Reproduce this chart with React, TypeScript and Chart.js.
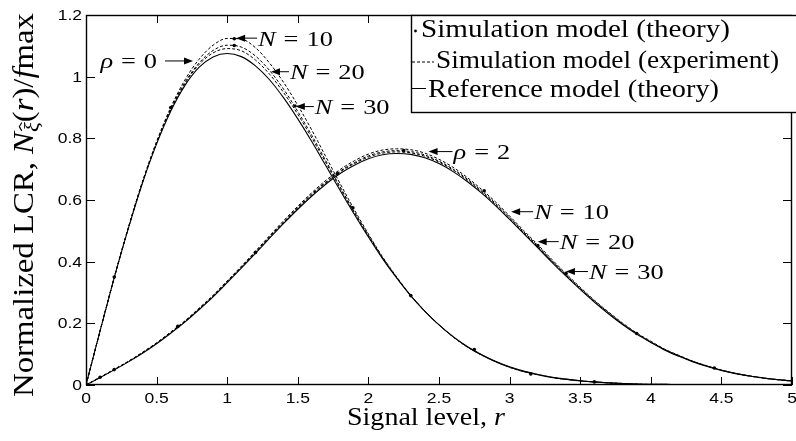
import React, { useEffect, useRef } from "react";
import { Chart, registerables } from "chart.js";
Chart.register(...registerables);

// ---------------- data ----------------
const rGrid = [0, 0.1, 0.2, 0.3, 0.4, 0.5, 0.6, 0.7, 0.8, 0.9, 1.0, 1.1, 1.2, 1.3, 1.4, 1.5, 1.6, 1.7, 1.8, 1.9, 2.0, 2.1, 2.2, 2.3, 2.4, 2.5, 2.6, 2.7, 2.8, 2.9, 3.0, 3.1, 3.2, 3.3, 3.4, 3.5, 3.6, 3.7, 3.8, 3.9, 4.0, 4.1, 4.2, 4.3, 4.4, 4.5, 4.6, 4.7, 4.8, 4.9, 5.0];

const refRho0 = [0, 0.176, 0.348, 0.508, 0.655, 0.782, 0.888, 0.971, 1.030, 1.064, 1.075, 1.065, 1.035, 0.990, 0.931, 0.863, 0.789, 0.710, 0.631, 0.554, 0.480, 0.410, 0.347, 0.289, 0.239, 0.195, 0.157, 0.125, 0.099, 0.077, 0.059, 0.045, 0.034, 0.025, 0.019, 0.014, 0.010, 0.007, 0.005, 0.003, 0.002, 0.002, 0.001, 0.001, 0, 0, 0, 0, 0, 0, 0];
const expRho0N10 = [0, 0.176, 0.349, 0.511, 0.660, 0.790, 0.900, 0.989, 1.056, 1.102, 1.124, 1.122, 1.094, 1.044, 0.981, 0.907, 0.826, 0.739, 0.653, 0.569, 0.490, 0.416, 0.351, 0.291, 0.240, 0.195, 0.156, 0.123, 0.097, 0.075, 0.057, 0.043, 0.033, 0.024, 0.018, 0.013, 0.010, 0.007, 0.005, 0.003, 0.002, 0.002, 0.001, 0.001, 0, 0, 0, 0, 0, 0, 0];
const expRho0N20 = [0, 0.176, 0.349, 0.510, 0.658, 0.786, 0.895, 0.981, 1.044, 1.085, 1.102, 1.096, 1.067, 1.020, 0.959, 0.887, 0.809, 0.726, 0.643, 0.562, 0.486, 0.413, 0.349, 0.290, 0.240, 0.195, 0.156, 0.124, 0.098, 0.076, 0.058, 0.044, 0.033, 0.024, 0.018, 0.013, 0.010, 0.007, 0.005, 0.003, 0.002, 0.002, 0.001, 0.001, 0, 0, 0, 0, 0, 0, 0];
const expRho0N30 = [0, 0.176, 0.348, 0.509, 0.657, 0.785, 0.892, 0.977, 1.039, 1.077, 1.091, 1.084, 1.054, 1.008, 0.948, 0.878, 0.801, 0.720, 0.638, 0.559, 0.483, 0.412, 0.348, 0.290, 0.239, 0.195, 0.157, 0.124, 0.098, 0.076, 0.058, 0.044, 0.034, 0.025, 0.019, 0.014, 0.010, 0.007, 0.005, 0.003, 0.002, 0.002, 0.001, 0.001, 0, 0, 0, 0, 0, 0, 0];

const refRho2 = [0, 0.024, 0.049, 0.075, 0.103, 0.134, 0.168, 0.204, 0.244, 0.286, 0.332, 0.379, 0.427, 0.476, 0.524, 0.570, 0.613, 0.652, 0.686, 0.713, 0.734, 0.747, 0.751, 0.748, 0.737, 0.718, 0.692, 0.660, 0.623, 0.582, 0.537, 0.491, 0.445, 0.398, 0.353, 0.310, 0.269, 0.231, 0.196, 0.165, 0.138, 0.113, 0.093, 0.075, 0.060, 0.047, 0.037, 0.029, 0.022, 0.017, 0.013];
const expRho2N10 = [0, 0.025, 0.051, 0.077, 0.106, 0.137, 0.172, 0.208, 0.249, 0.291, 0.338, 0.385, 0.434, 0.484, 0.533, 0.580, 0.624, 0.664, 0.699, 0.727, 0.749, 0.762, 0.766, 0.763, 0.752, 0.732, 0.706, 0.673, 0.635, 0.594, 0.548, 0.501, 0.455, 0.407, 0.361, 0.317, 0.275, 0.237, 0.201, 0.169, 0.142, 0.116, 0.096, 0.077, 0.062, 0.049, 0.038, 0.030, 0.023, 0.018, 0.014];
const expRho2N20 = [0, 0.025, 0.050, 0.076, 0.105, 0.136, 0.170, 0.206, 0.247, 0.289, 0.336, 0.383, 0.431, 0.481, 0.529, 0.576, 0.620, 0.659, 0.694, 0.721, 0.743, 0.756, 0.760, 0.757, 0.746, 0.726, 0.700, 0.668, 0.630, 0.589, 0.544, 0.497, 0.451, 0.403, 0.358, 0.314, 0.273, 0.235, 0.199, 0.167, 0.140, 0.115, 0.095, 0.076, 0.061, 0.048, 0.038, 0.029, 0.023, 0.017, 0.013];
const expRho2N30 = [0, 0.024, 0.050, 0.076, 0.104, 0.135, 0.169, 0.205, 0.246, 0.288, 0.334, 0.381, 0.429, 0.479, 0.527, 0.574, 0.617, 0.656, 0.691, 0.718, 0.739, 0.752, 0.756, 0.753, 0.742, 0.723, 0.697, 0.665, 0.627, 0.586, 0.541, 0.494, 0.448, 0.401, 0.356, 0.312, 0.271, 0.233, 0.198, 0.166, 0.139, 0.114, 0.094, 0.076, 0.061, 0.048, 0.037, 0.029, 0.022, 0.017, 0.013];

// "Simulation model (theory)" markers
const simDotsRho0X = [0.2, 0.6, 1.05, 1.05, 1.48, 1.89, 2.3, 2.75, 3.15, 3.6];
const simDotsRho0Y = [0.35, 0.90, 1.123, 1.101, 0.905, 0.575, 0.29, 0.115, 0.036, 0.01];
const simDotsRho2X = [0.1, 0.2, 0.65, 1.2, 1.78, 2.25, 2.82, 3.2, 3.4, 3.9, 4.45];
const simDotsRho2Y = [0.025, 0.05, 0.19, 0.43, 0.685, 0.76, 0.63, 0.452, 0.362, 0.167, 0.055];

const xTickValues = [0, 0.5, 1, 1.5, 2, 2.5, 3, 3.5, 4, 4.5, 5];
const xTickLabels = ["0", "0.5", "1", "1.5", "2", "2.5", "3", "3.5", "4", "4.5", "5"];
const yTickValues = [0, 0.2, 0.4, 0.6, 0.8, 1, 1.2];
const yTickLabels = ["0", "0.2", "0.4", "0.6", "0.8", "1", "1.2"];

const legendLabels = ["Simulation model (theory)", "Simulation model (experiment)", "Reference model (theory)"];
const xTitle = "Signal level, ";
const yTitle = "Normalized LCR, ";

// annotation anchors (arrow tip in data coordinates)
const annotations = [
  { sym: "ρ", val: "0", x: 0.758, y: 1.051, textSide: "left", arrow: 28 },
  { sym: "N", val: "10", x: 1.063, y: 1.125, textSide: "right", arrow: 21 },
  { sym: "N", val: "20", x: 1.31, y: 1.016, textSide: "right", arrow: 18 },
  { sym: "N", val: "30", x: 1.486, y: 0.903, textSide: "right", arrow: 18 },
  { sym: "ρ", val: "2", x: 2.426, y: 0.757, textSide: "right", arrow: 24 },
  { sym: "N", val: "10", x: 3.011, y: 0.562, textSide: "right", arrow: 22 },
  { sym: "N", val: "20", x: 3.199, y: 0.465, textSide: "right", arrow: 21 },
  { sym: "N", val: "30", x: 3.399, y: 0.368, textSide: "right", arrow: 22 },
];

// ---------------- text helpers ----------------
const SERIF = '"Liberation Serif", "Times New Roman", serif';
const SANS = '"Liberation Sans", Arial, sans-serif';

type Seg = { t?: string; it?: boolean; sc?: number; dy?: number; hat?: boolean; gap?: number };

function fnt(size: number, it: boolean | undefined, fam: string) {
  return `${it ? "italic " : ""}${size}px ${fam}`;
}
function segW(ctx: CanvasRenderingContext2D, s: Seg, size: number, fam: string) {
  if (s.gap) return s.gap * size;
  ctx.font = fnt(size * (s.sc ?? 1), s.it, fam);
  return ctx.measureText(s.t ?? "").width;
}
function measure(ctx: CanvasRenderingContext2D, segs: Seg[], size: number, fam: string) {
  return segs.reduce((a, s) => a + segW(ctx, s, size, fam), 0);
}
function drawSegs(
  ctx: CanvasRenderingContext2D,
  segs: Seg[],
  x: number,
  y: number,
  size: number,
  fam: string,
  o: { align: "left" | "center" | "right"; sx?: number; sy?: number; width?: number; rot?: number }
) {
  const w = measure(ctx, segs, size, fam);
  const sx = o.width ? o.width / w : o.sx ?? 1;
  ctx.save();
  ctx.translate(x, y);
  if (o.rot) ctx.rotate(o.rot);
  ctx.scale(sx, o.sy ?? 1);
  ctx.fillStyle = "#000";
  ctx.strokeStyle = "#000";
  ctx.textAlign = "left";
  ctx.textBaseline = "alphabetic";
  let cx = o.align === "left" ? 0 : o.align === "center" ? -w / 2 : -w;
  for (const s of segs) {
    const sw = segW(ctx, s, size, fam);
    if (!s.gap) {
      ctx.font = fnt(size * (s.sc ?? 1), s.it, fam);
      ctx.fillText(s.t ?? "", cx, s.dy ?? 0);
      if (s.hat) {
        const hs = size * (s.sc ?? 1);
        const mx = cx + sw * 0.55;
        const top = (s.dy ?? 0) - hs * 0.95;
        ctx.lineWidth = 0.9;
        ctx.beginPath();
        ctx.moveTo(mx - hs * 0.18, top + hs * 0.12);
        ctx.lineTo(mx, top);
        ctx.lineTo(mx + hs * 0.18, top + hs * 0.12);
        ctx.stroke();
      }
    }
    cx += sw;
  }
  ctx.restore();
}

// ---------------- plugin ----------------
const decorPlugin = {
  id: "decor",
  afterDatasetsDraw(chart: any) {
    const ctx: CanvasRenderingContext2D = chart.ctx;
    const { left, right, top, bottom } = chart.chartArea;
    const xs = chart.scales.x;
    const ys = chart.scales.y;
    ctx.save();

    // frame
    ctx.strokeStyle = "#000";
    ctx.lineWidth = 1.4;
    ctx.setLineDash([]);
    ctx.strokeRect(left + 0.5, top + 0.5, right - left - 1, bottom - top - 1);

    // inward ticks
    ctx.lineWidth = 1;
    ctx.beginPath();
    for (const v of xTickValues) {
      const px = Math.round(xs.getPixelForValue(v)) + 0.5;
      ctx.moveTo(px, bottom);
      ctx.lineTo(px, bottom - 8);
      ctx.moveTo(px, top);
      ctx.lineTo(px, top + 8);
    }
    for (const v of yTickValues) {
      const py = Math.round(ys.getPixelForValue(v)) + 0.5;
      ctx.moveTo(left, py);
      ctx.lineTo(left + 9, py);
      ctx.moveTo(right, py);
      ctx.lineTo(right - 9, py);
    }
    ctx.stroke();

    // tick labels
    xTickValues.forEach((v, i) => {
      drawSegs(ctx, [{ t: xTickLabels[i] }], xs.getPixelForValue(v), bottom + 18, 14, SANS, { align: "center", sx: 1.25 });
    });
    yTickValues.forEach((v, i) => {
      drawSegs(ctx, [{ t: yTickLabels[i] }], left - 4, ys.getPixelForValue(v) + 5, 14, SANS, { align: "right", sx: 1.25 });
    });

    // axis titles
    drawSegs(ctx, [{ t: xTitle }, { t: "r", it: true }], 426, 425, 25, SERIF, { align: "center", width: 158 });
    drawSegs(
      ctx,
      [
        { t: yTitle },
        { t: "N", it: true },
        { t: "ξ", it: true, sc: 0.7, dy: 5, hat: true },
        { t: "(" },
        { t: "r", it: true },
        { t: ")" },
        { t: "/" },
        { t: "f", it: true },
        { t: "max" },
      ],
      33,
      205,
      24,
      SERIF,
      { align: "center", width: 384, sy: 1.25, rot: -Math.PI / 2 }
    );

    // annotations
    for (const a of annotations) {
      const tx = xs.getPixelForValue(a.x);
      const ty = ys.getPixelForValue(a.y);
      const head = 9;
      const hw = 3.5;
      const dir = a.textSide === "right" ? 1 : -1;
      ctx.strokeStyle = "#000";
      ctx.fillStyle = "#000";
      ctx.lineWidth = 1;
      ctx.beginPath();
      ctx.moveTo(tx + dir * head * 0.8, ty);
      ctx.lineTo(tx + dir * a.arrow, ty);
      ctx.stroke();
      ctx.beginPath();
      ctx.moveTo(tx, ty);
      ctx.lineTo(tx + dir * head, ty - hw);
      ctx.lineTo(tx + dir * head, ty + hw);
      ctx.closePath();
      ctx.fill();
      const segs: Seg[] = [{ t: a.sym, it: true }, { gap: 0.3 }, { t: "=" }, { gap: 0.3 }, { t: a.val }];
      if (dir > 0) {
        drawSegs(ctx, segs, tx + a.arrow + 1, ty + 7.5, 22, SERIF, { align: "left", sx: 1.2 });
      } else {
        drawSegs(ctx, segs, tx - a.arrow - 8, ty + 7.5, 22, SERIF, { align: "right", sx: 1.2 });
      }
    }

    // legend box
    const bx = 411.5;
    const by = top + 0.5;
    const bh = 97;
    ctx.fillStyle = "#fff";
    ctx.fillRect(bx, by, chart.width - bx + 2, bh);
    ctx.strokeStyle = "#000";
    ctx.lineWidth = 1.4;
    ctx.strokeRect(bx, by, chart.width - bx + 5, bh);

    const base = [37, 67.5, 97];
    // row 1: dot
    ctx.fillStyle = "#000";
    ctx.beginPath();
    ctx.arc(415.5, base[0] - 6, 1.4, 0, Math.PI * 2);
    ctx.fill();
    drawSegs(ctx, [{ t: legendLabels[0] }], 421, base[0], 25, SERIF, { align: "left", width: 309 });
    // row 2: dashed
    ctx.lineWidth = 1;
    ctx.strokeStyle = "#000";
    ctx.setLineDash([3, 2]);
    ctx.beginPath();
    ctx.moveTo(412, base[1] - 5.5);
    ctx.lineTo(434, base[1] - 5.5);
    ctx.stroke();
    ctx.setLineDash([]);
    drawSegs(ctx, [{ t: legendLabels[1] }], 436, base[1], 25, SERIF, { align: "left", width: 343 });
    // row 3: solid
    ctx.beginPath();
    ctx.moveTo(412, base[2] - 8.5);
    ctx.lineTo(426, base[2] - 8.5);
    ctx.stroke();
    drawSegs(ctx, [{ t: legendLabels[2] }], 428, base[2], 25, SERIF, { align: "left", width: 291 });

    ctx.restore();
  },
};

// ---------------- component ----------------
function pts(ys: number[]) {
  return rGrid.map((x, i) => ({ x, y: ys[i] }));
}
function dotPts(xs: number[], ys: number[]) {
  return xs.map((x, i) => ({ x, y: ys[i] }));
}

export default function App() {
  const ref = useRef<HTMLCanvasElement>(null);
  useEffect(() => {
    document.body.style.margin = "0";
    let alive = true;
    const solid = { borderColor: "#000", borderWidth: 1.1, pointRadius: 0, fill: false, cubicInterpolationMode: "monotone" as const };
    const dashed = { ...solid, borderWidth: 1, borderDash: [3, 2] };
    const dots = { type: "scatter" as const, showLine: false, pointRadius: 1.8, pointBackgroundColor: "#000", pointBorderWidth: 0, backgroundColor: "#000" };
    const chart = new Chart(ref.current!, {
      type: "line",
      data: {
        datasets: [
          { label: "ref0", data: pts(refRho0), ...solid },
          { label: "e0n10", data: pts(expRho0N10), ...dashed },
          { label: "e0n20", data: pts(expRho0N20), ...dashed },
          { label: "e0n30", data: pts(expRho0N30), ...dashed },
          { label: "ref2", data: pts(refRho2), ...solid },
          { label: "e2n10", data: pts(expRho2N10), ...dashed },
          { label: "e2n20", data: pts(expRho2N20), ...dashed },
          { label: "e2n30", data: pts(expRho2N30), ...dashed },
          { label: "s0", data: dotPts(simDotsRho0X, simDotsRho0Y), ...dots } as any,
          { label: "s2", data: dotPts(simDotsRho2X, simDotsRho2Y), ...dots } as any,
        ],
      },
      options: {
        responsive: false,
        animation: false,
        devicePixelRatio: 1,
        layout: { padding: { left: 86, right: 0, top: 15, bottom: 56 } },
        scales: {
          x: { type: "linear", min: 0, max: 5, display: false },
          y: { type: "linear", min: 0, max: 1.2, display: false },
        },
        plugins: { legend: { display: false }, tooltip: { enabled: false } },
      },
      plugins: [decorPlugin],
    });
    const fontsToLoad = [
      '25px "Liberation Serif"',
      'italic 25px "Liberation Serif"',
      '14px "Liberation Sans"',
    ];
    if ((document as any).fonts) {
      Promise.all(fontsToLoad.map((f) => (document as any).fonts.load(f).catch(() => null))).then(() => {
        if (alive) chart.draw();
      });
    }
    return () => {
      alive = false;
      chart.destroy();
    };
  }, []);
  return (
    <div style={{ width: 796, height: 441, background: "#fff" }}>
      <canvas ref={ref} width={796} height={441} style={{ display: "block" }} />
    </div>
  );
}
